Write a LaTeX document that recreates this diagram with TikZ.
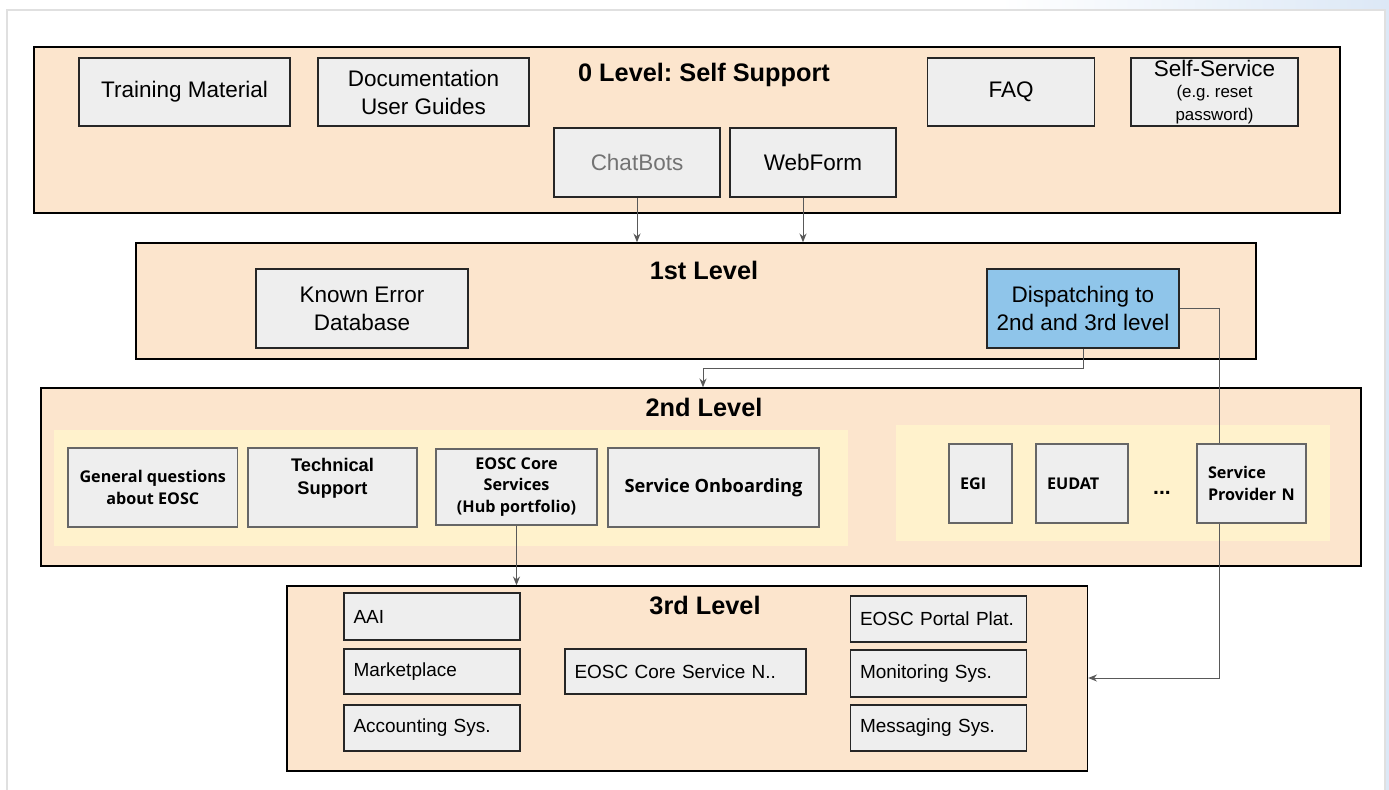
\documentclass[tikz,border=0pt]{standalone}
\usepackage{fontspec}
\setmainfont{Liberation Sans}
\newfontfamily\opensans{Open Sans}
\usetikzlibrary{positioning, arrows.meta, calc}
\definecolor{peach}{HTML}{FCE5CD}
\definecolor{cream}{HTML}{FFF2CC}
\definecolor{boxgray}{HTML}{EEEEEE}
\definecolor{dispblue}{HTML}{8FC5EA}
\definecolor{linegray}{HTML}{595959}
\definecolor{skyfade}{HTML}{DCE8F6}
\newcommand{\smalltxt}{\fontsize{9.6}{11.4}\selectfont}
\frenchspacing

\begin{document}
\begin{tikzpicture}[y=-1cm,
  tier/.style={draw=black, line width=0.8pt, fill=peach, rectangle, inner sep=0pt},
  zone/.style={fill=cream, rectangle, inner sep=0pt},
  lvltitle/.style={font=\bfseries\fontsize{14.4}{17}\selectfont},
  block/.style={draw=black!85, line width=0.6pt, fill=boxgray, rectangle, align=center, minimum width=4.22cm, minimum height=1.36cm, font=\fontsize{12.8}{15.9}\selectfont},
  sbox/.style={draw=black!60, line width=0.6pt, fill=boxgray, rectangle, align=center, minimum height=1.58cm, font=\opensans\bfseries\fontsize{9.2}{12.3}\selectfont},
  sysbox/.style={draw=black!85, line width=0.6pt, fill=boxgray, rectangle, align=left, inner xsep=0.19cm, text width=3.14cm, minimum height=0.92cm, font=\fontsize{10.8}{13}\selectfont},
  link/.style={draw=linegray, line width=0.55pt},
  arr/.style={link, -{Stealth[length=5pt, width=4pt]}}]
\useasboundingbox (0,0) rectangle (27.78,15.8);
% page frame
\shade[left color=white, right color=skyfade] (20,0) rectangle (27.78,0.2);
\fill[skyfade] (27.70,0) rectangle (27.78,15.8);
\draw[black!12, line width=1.2pt] (0.14,15.8) -- (0.14,0.2) -- (27.70,0.2) -- (27.70,15.8);

% levels
\node[tier, minimum width=26.12cm, minimum height=3.32cm] (L0) at (13.74,2.60) {};
\node[tier, minimum width=22.40cm, minimum height=2.32cm] (L1) at (13.92,6.02) {};
\node[tier, minimum width=26.40cm, minimum height=3.56cm] (L2) at (14.02,9.54) {};
\node[tier, minimum width=16.01cm, minimum height=3.70cm] (L3) at (13.745,13.57) {};
\node[zone, minimum width=15.88cm, minimum height=2.32cm] (YL) at (9.02,9.76) {};
\node[zone, minimum width=8.68cm, minimum height=2.32cm] (YR) at (22.25,9.66) {};

\node[lvltitle] (T0) at (14.08,1.50) {0 Level: Self Support};
\node[lvltitle] (T1) at (14.08,5.40) {1st Level};
\node[lvltitle] (T2) at (14.08,8.14) {2nd Level};
\node[lvltitle] (T3) at (14.10,12.10) {3rd Level};

% 0 level
\node[block] (TM) at (3.69,1.84) {Training Material};
\node[block] (Doc) at (8.47,1.84) {Documentation\\User Guides};
\node[block, minimum width=3.34cm] (FAQ) at (20.22,1.84) {FAQ};
\node[block, minimum width=3.34cm, inner ysep=0pt] (Self) at (24.29,1.84) {Self-Service\\[-4pt]{\smalltxt(e.g. reset}\\[-3pt]{\smalltxt password)}};
\node[block, minimum width=3.32cm, minimum height=1.38cm, text=black!55] (CB) at (12.74,3.25) {ChatBots};
\node[block, minimum width=3.32cm, minimum height=1.38cm] (WF) at (16.26,3.25) {WebForm};

% 1st level
\node[block, minimum width=4.24cm, minimum height=1.58cm] (KED) at (7.24,6.17) {Known Error\\Database};
\node[block, fill=dispblue, minimum width=3.84cm, minimum height=1.58cm] (Disp) at (21.66,6.17) {Dispatching to\\2nd and 3rd level};

\draw[arr] (CB.south) -- (CB.south |- L1.north);
\draw[arr] ([xshift=-0.2cm]WF.south) -- ([xshift=-0.2cm]WF.south |- L1.north);
\coordinate (D1) at (14.06,7.36);
\draw[arr] (Disp.south) |- (D1) -- (D1 |- L2.north);
\coordinate (D2) at (24.38,13.56);
\draw[arr] (Disp.east) -| (D2) -- (D2 -| L3.east);

% 2nd level
\node[sbox, minimum width=3.39cm] (Gen) at (3.055,9.75) {General questions\\about EOSC};
\node[sbox, minimum width=3.38cm, text depth=0.45cm, font=\bfseries\fontsize{10.4}{12.7}\selectfont] (Tech) at (6.65,9.75) {Technical\\Support};
\node[sbox, minimum width=3.22cm, minimum height=1.52cm] (Core) at (10.33,9.74) {EOSC Core\\Services\\(Hub portfolio)};
\node[sbox, minimum width=4.22cm, font=\opensans\bfseries\fontsize{10.4}{12.7}\selectfont] (Onb) at (14.27,9.75) {Service Onboarding};
\node[sbox, align=left, inner xsep=0.22cm, text width=0.82cm] (EGI) at (19.61,9.67) {EGI};
\node[sbox, align=left, inner xsep=0.22cm, text width=1.40cm] (EUDAT) at (21.64,9.67) {EUDAT};
\node[font=\bfseries\fontsize{12}{14}\selectfont] (dots) at (23.24,9.85) {...};
\node[sbox, align=left, inner xsep=0.22cm, text width=1.74cm] (SPN) at (25.03,9.67) {Service\\Provider N};

% 3rd level
\node[sysbox, minimum height=0.94cm] (AAI) at (8.64,12.33) {AAI};
\node[sysbox, minimum height=0.90cm] (Mkt) at (8.64,13.43) {Marketplace};
\node[sysbox] (Acc) at (8.64,14.56) {Accounting Sys.};
\node[sysbox, text width=4.44cm, minimum height=0.90cm] (CoreN) at (13.71,13.43) {EOSC Core Service N..};
\node[sysbox] (Portal) at (18.77,12.38) {EOSC Portal Plat.};
\node[sysbox, minimum height=0.94cm] (Mon) at (18.77,13.47) {Monitoring Sys.};
\node[sysbox] (Msg) at (18.77,14.56) {Messaging Sys.};

\draw[arr] (Core.south) -- (Core.south |- L3.north);
\end{tikzpicture}
\end{document}
